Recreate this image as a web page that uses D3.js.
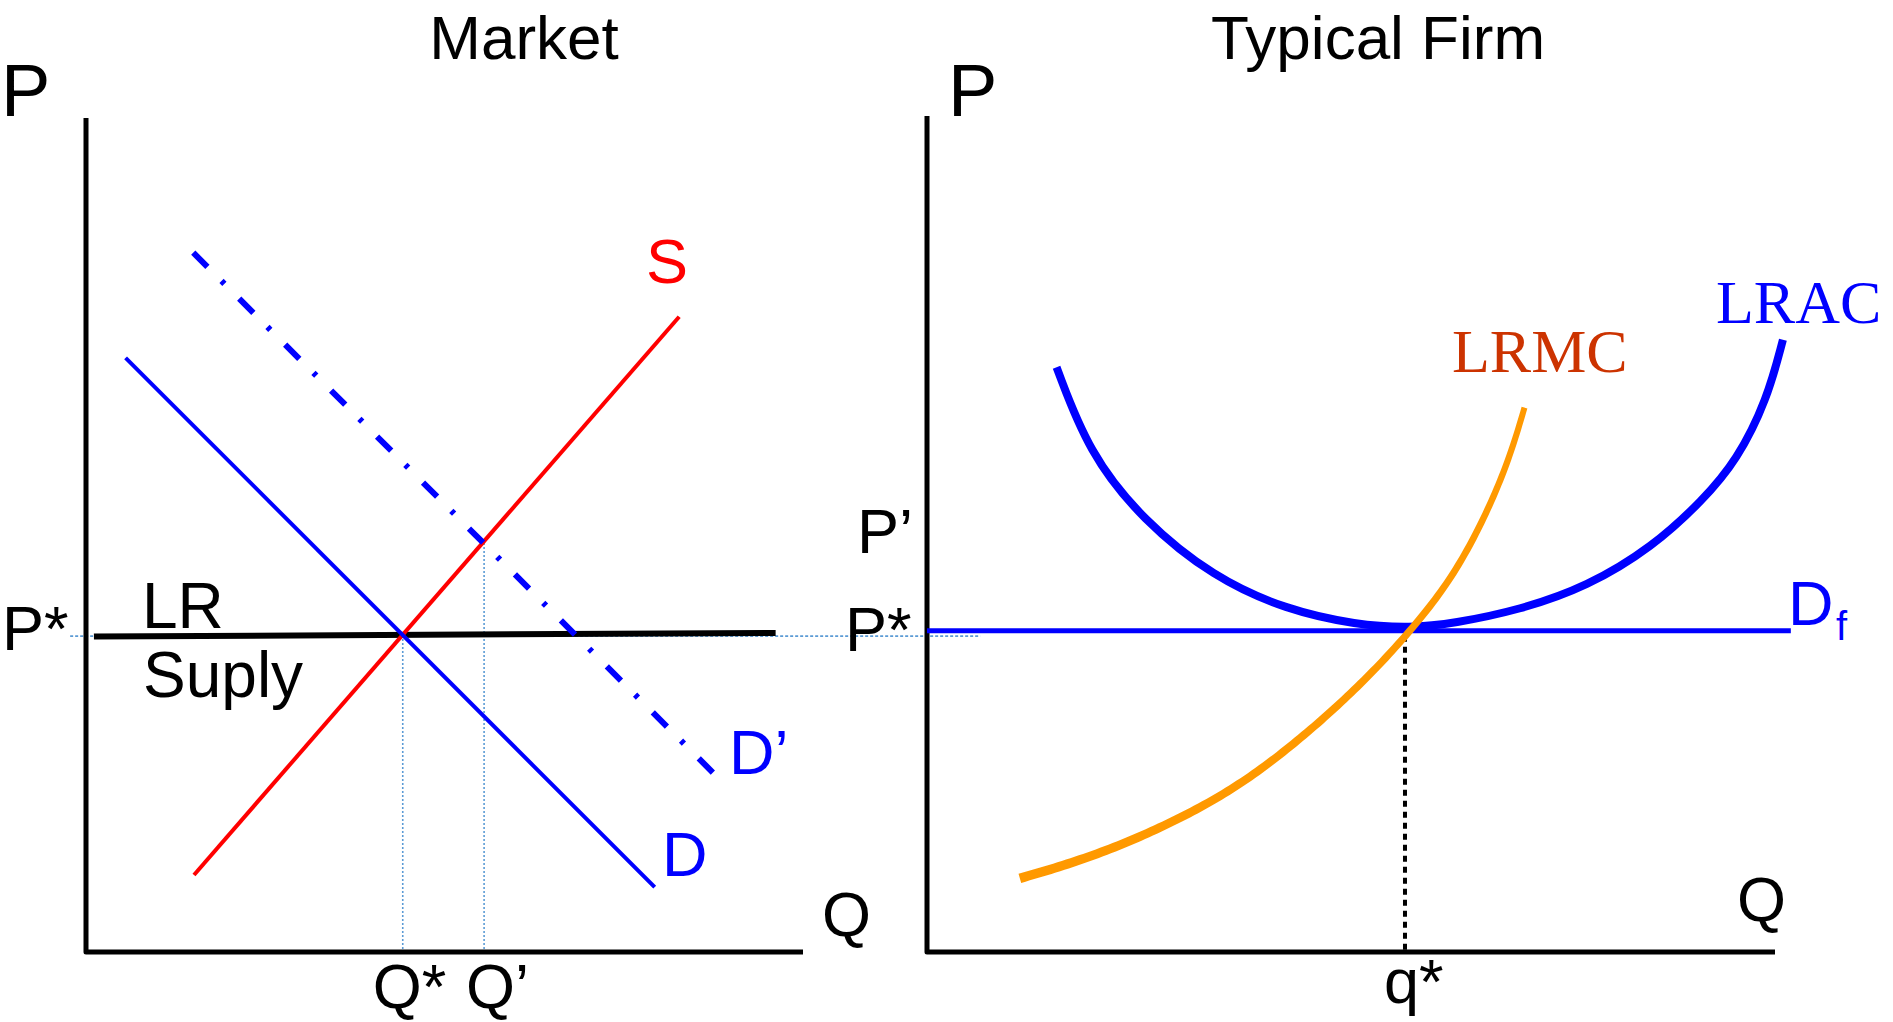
<!DOCTYPE html>
<html>
<head>
<meta charset="utf-8">
<script src="https://cdn.jsdelivr.net/npm/d3@7"></script>
<style>
  html, body { margin: 0; padding: 0; background: #ffffff; }
  svg { display: block; }
  text { font-family: "Liberation Sans", Arial, Helvetica, sans-serif; }
</style>
</head>
<body>
<svg id="chart" width="1893" height="1022"></svg>
<script>
// ---------------- DATA ----------------
// Market panel (quantity q, price p in arbitrary units)
const marketSupply      = [{q: 15.0, p: 10.7}, {q: 82.4, p: 88.2}];
const marketDemand      = [{q: 5.5,  p: 82.5}, {q: 79.0, p: 9.0}];
const marketDemandNew   = [{q: 14.9, p: 97.1}, {q: 88.5, p: 23.5}];
const marketLRSupply    = [{q: 1.1,  p: 43.8}, {q: 95.8, p: 44.3}];
const marketPStar = 44;
const marketQStar = 44;
const marketQPrime = 55.3;
const marketPPrime = 56.8;

// Typical firm panel
const firmLRAC = [
  {q: 18.0, p: 81.0}, {q: 22.5, p: 69.1}, {q: 30.0, p: 59.8}, {q: 39.8, p: 51.9},
  {q: 49.9, p: 47.4}, {q: 59.7, p: 45.3}, {q: 67.2, p: 44.9}, {q: 73.1, p: 45.5},
  {q: 82.4, p: 47.4}, {q: 91.7, p: 50.6}, {q: 100.8, p: 56.1}, {q: 107.8, p: 62.6},
  {q: 112.5, p: 68.1}, {q: 116.7, p: 76.5}, {q: 118.9, p: 84.8}
];
const firmLRMC = [
  {q: 12.9, p: 10.2}, {q: 24.9, p: 13.7}, {q: 39.8, p: 20.6}, {q: 49.7, p: 27.6},
  {q: 59.6, p: 36.3}, {q: 67.0, p: 44.2}, {q: 73.1, p: 51.9}, {q: 77.8, p: 60.8},
  {q: 81.0, p: 68.6}, {q: 83.0, p: 75.4}
];
const firmDemand = [{q: 0, p: 44.5}, {q: 120, p: 44.5}];
const firmQStar = 66.4;
const firmPStar = 44.5;

// Labels
const titles = ["Market", "Typical Firm"];
const axisLabelP = "P";
const axisLabelQ = "Q";

// ---------------- DRAWING ----------------
const svg = d3.select("#chart");

// scales
const xM = d3.scaleLinear().domain([0, 99.6]).range([86, 803]);
const yM = d3.scaleLinear().domain([0, 115.8]).range([952, 118]);
const xF = d3.scaleLinear().domain([0, 117.8]).range([927, 1775]);
const yF = d3.scaleLinear().domain([0, 115.8]).range([952, 116]);

const lineM = d3.line().x(d => xM(d.q)).y(d => yM(d.p));
const lineF = d3.line().x(d => xF(d.q)).y(d => yF(d.p));
const curveF = d3.line().x(d => xF(d.q)).y(d => yF(d.p)).curve(d3.curveBasis);

// P* light-blue dotted guide spanning both panels
svg.append("line")
  .attr("x1", xM(-2.2)).attr("x2", xF(7.4))
  .attr("y1", yM(marketPStar) + 1).attr("y2", yM(marketPStar) + 1)
  .attr("stroke", "#5b9bd5").attr("stroke-width", 1.6)
  .attr("stroke-dasharray", "3,2");

// Q* and Q' dotted guides
[[marketQStar, marketPStar], [marketQPrime, marketPPrime]].forEach(([q, p]) => {
  svg.append("line")
    .attr("x1", xM(q)).attr("x2", xM(q))
    .attr("y1", yM(p)).attr("y2", yM(0))
    .attr("stroke", "#5b9bd5").attr("stroke-width", 1.6)
    .attr("stroke-dasharray", "2,2");
});

// Axes (drawn as L-shaped paths from scale ranges)
function drawAxes(x, y) {
  const [x0, x1] = x.range();
  const [yb, yt] = y.range();
  svg.append("path")
    .attr("d", `M${x0},${yt} L${x0},${yb} L${x1},${yb}`)
    .attr("fill", "none").attr("stroke", "#000")
    .attr("stroke-width", 5).attr("stroke-linejoin", "round");
}
drawAxes(xM, yM);
drawAxes(xF, yF);

// Market curves
svg.append("path").datum(marketLRSupply).attr("d", lineM)
  .attr("fill", "none").attr("stroke", "#000").attr("stroke-width", 6);
svg.append("path").datum(marketSupply).attr("d", lineM)
  .attr("fill", "none").attr("stroke", "#ff0000").attr("stroke-width", 4);
svg.append("path").datum(marketDemand).attr("d", lineM)
  .attr("fill", "none").attr("stroke", "#0000ff").attr("stroke-width", 4);
svg.append("path").datum(marketDemandNew).attr("d", lineM)
  .attr("fill", "none").attr("stroke", "#0000ff").attr("stroke-width", 6)
  .attr("stroke-dasharray", "20,20,4,21");

// Firm: q* dotted black
svg.append("line")
  .attr("x1", xF(firmQStar)).attr("x2", xF(firmQStar))
  .attr("y1", yF(firmPStar) + 5).attr("y2", yF(0))
  .attr("stroke", "#000").attr("stroke-width", 4)
  .attr("stroke-dasharray", "6,5");

// Firm curves
svg.append("path").datum(firmDemand).attr("d", lineF)
  .attr("fill", "none").attr("stroke", "#0000ff").attr("stroke-width", 5);
svg.append("path").datum(firmLRAC).attr("d", curveF)
  .attr("fill", "none").attr("stroke", "#0000ff").attr("stroke-width", 8);

// LRMC: tapered stroke (thicker at the bottom, thinner at the top)
(function drawTapered(data, w0, w1, color) {
  const tmp = svg.append("path").datum(data).attr("d", curveF)
    .attr("fill", "none").attr("stroke", "none");
  const node = tmp.node();
  const L = node.getTotalLength();
  const N = 160;
  const pts = d3.range(N + 1).map(i => node.getPointAtLength(L * i / N));
  const left = [], right = [];
  pts.forEach((pt, i) => {
    const a = pts[Math.max(0, i - 1)], b = pts[Math.min(N, i + 1)];
    const dx = b.x - a.x, dy = b.y - a.y;
    const len = Math.hypot(dx, dy) || 1;
    const nx = -dy / len, ny = dx / len;
    const w = (w0 + (w1 - w0) * i / N) / 2;
    left.push([pt.x + nx * w, pt.y + ny * w]);
    right.push([pt.x - nx * w, pt.y - ny * w]);
  });
  const poly = left.concat(right.reverse());
  tmp.remove();
  svg.append("path")
    .attr("d", d3.line()(poly) + "Z")
    .attr("fill", color).attr("stroke", "none");
})(firmLRMC, 9.5, 6, "#ff9900");

// ---------------- TEXT ----------------
function txt(x, y, s, size, color, opts = {}) {
  const t = svg.append("text")
    .attr("x", x).attr("y", y)
    .attr("font-size", size)
    .attr("fill", color || "#000")
    .attr("text-anchor", opts.anchor || "start")
    .text(s);
  if (opts.serif) t.style("font-family", '"Liberation Serif", "Times New Roman", serif');
  return t;
}

// Titles
txt(524, 59, titles[0], 62, "#000", {anchor: "middle"});
txt(1378, 59, titles[1], 62, "#000", {anchor: "middle"});

// Axis letters
txt(xM.range()[0] - 85, 116, axisLabelP, 74);
txt(xF.range()[0] + 21, 116, axisLabelP, 74);
txt(822, 936, axisLabelQ, 63);
txt(1737, 921, axisLabelQ, 63);

// Market labels
txt(2, yM(marketPStar) + 15, "P*", 63);
txt(142, 628, "LR", 64);
txt(143, 697, "Suply", 64);
txt(646, 283, "S", 63, "#ff0000");
txt(729, 774, "D\u2019", 63, "#0000ff");
txt(662, 876, "D", 63, "#0000ff");
txt(xM(marketQStar) - 30, 1008, "Q*", 63);
txt(xM(marketQPrime) - 18, 1008, "Q\u2019", 63);

// Firm labels
txt(857, yM(marketPPrime) + 10, "P\u2019", 63);
txt(845, yF(firmPStar) + 20, "P*", 63);
txt(1716, 323, "LRAC", 62, "#0000ff", {serif: true});
txt(1452, 372, "LRMC", 62, "#cc3300", {serif: true});
txt(1788, 625, "D", 63, "#0000ff");
txt(1836, 640, "f", 40, "#0000ff");
txt(xF(firmQStar) - 21, 1003, "q*", 63);
</script>
</body>
</html>
